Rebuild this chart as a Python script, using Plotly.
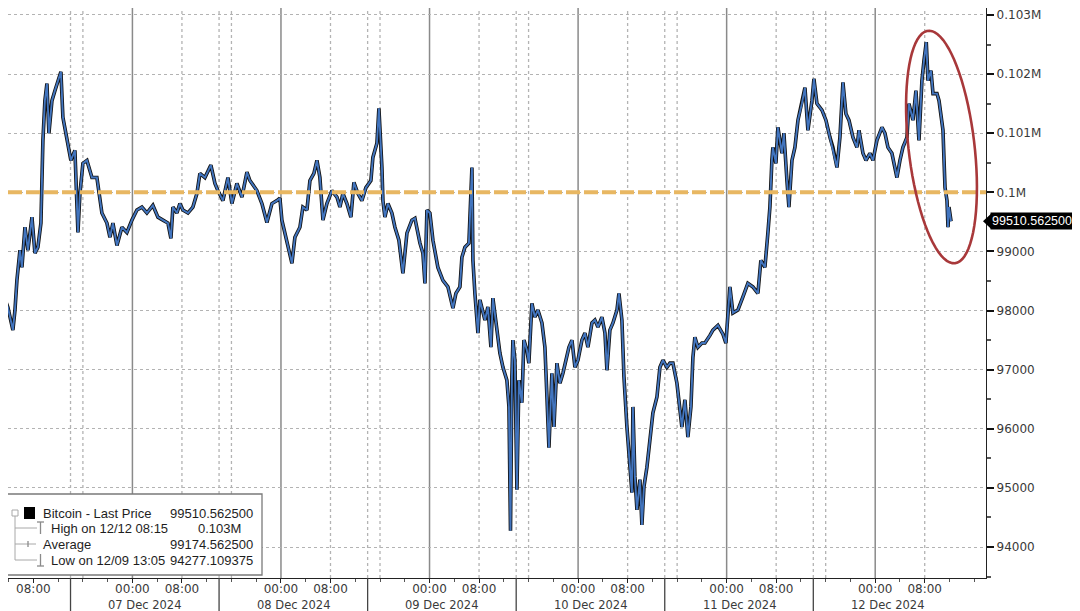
import numpy as np
import pandas as pd
import plotly.graph_objects as go

# Bitcoin last price, hours measured from 07 Dec 2024 00:00
day0 = pd.Timestamp("2024-12-07 00:00")

hours = [
    -21.08, -20.60, -20.11, -19.31, -18.98, -18.66, -18.17, -17.85, -17.36, -16.88,
    -16.23, -15.75, -15.27, -14.78, -14.46, -14.14, -13.81, -13.49, -13.00, -12.52,
    -12.04, -11.55, -11.23, -10.42, -9.94, -9.29, -8.97, -8.80, -8.48, -8.00,
    -7.35, -6.54, -5.74, -5.41, -4.93, -4.12, -3.63, -3.15, -2.50, -1.70,
    -0.89, -0.08, 0.73, 1.53, 2.34, 3.31, 4.12, 4.93, 5.74, 6.22,
    6.54, 7.19, 7.67, 8.16, 8.97, 9.77, 10.42, 10.90, 11.71, 12.68,
    13.33, 13.81, 14.62, 15.43, 16.07, 16.88, 17.69, 18.50, 18.98, 20.11,
    20.92, 21.73, 22.54, 23.34, 23.83, 24.15, 24.64, 25.12, 25.77, 26.25,
    27.06, 27.54, 28.19, 28.68, 29.32, 29.81, 30.29, 30.78, 31.42, 32.23,
    33.04, 33.52, 34.01, 34.65, 35.30, 35.78, 36.43, 37.07, 37.72, 38.53,
    38.85, 39.50, 39.82, 40.31, 40.47, 40.79, 41.28, 41.92, 42.41, 43.05,
    43.70, 44.35, 45.15, 45.64, 46.45, 46.93, 47.26, 47.58, 48.06, 48.55,
    49.35, 50.16, 50.97, 51.78, 52.26, 52.91, 53.23, 53.72, 54.36, 54.85,
    55.01, 55.33, 55.82, 56.14, 56.95, 57.43, 57.92, 58.24, 58.89, 59.37,
    59.86, 60.50, 60.83, 61.08, 61.31, 61.47, 61.79, 62.12, 62.44, 62.92,
    63.25, 63.73, 64.05, 64.54, 65.02, 65.51, 66.16, 66.64, 66.97, 67.13,
    67.29, 67.77, 68.10, 68.58, 69.07, 69.55, 70.04, 70.52, 71.01, 71.49,
    71.98, 72.62, 73.11, 73.59, 74.24, 74.72, 75.21, 75.85, 76.34, 76.66,
    77.14, 77.63, 78.28, 78.60, 79.08, 79.41, 79.89, 80.21, 80.70, 80.86,
    81.18, 81.51, 81.99, 82.31, 82.64, 83.12, 83.61, 84.09, 84.74, 85.22,
    85.71, 86.35, 86.84, 87.32, 87.97, 88.29, 88.77, 89.26, 89.74, 90.23,
    90.55, 90.87, 91.36, 92.01, 92.49, 93.30, 93.78, 94.59, 95.40, 95.88,
    96.53, 97.01, 97.82, 98.63, 99.43, 100.24, 101.05, 101.53, 102.18, 102.66,
    102.99, 103.31, 103.47, 103.96, 104.28, 104.93, 105.25, 105.74, 106.06, 106.55,
    107.03, 107.52, 108.16, 108.65, 109.13, 109.78, 110.10, 110.59, 111.40, 112.04,
    112.69, 113.17, 113.82, 114.30, 114.79, 115.27, 115.76, 116.41, 117.05, 117.38,
    118.02, 118.51, 119.15, 119.64, 120.28, 121.09, 121.57, 122.06, 122.70, 123.19,
    123.51, 124.00, 124.48, 125.13, 125.45, 126.10, 126.58, 127.07, 127.55, 127.88,
    128.25, 128.53, 129.01, 129.34, 129.98, 130.31, 130.63, 130.95, 131.12, 131.28,
    131.60, 131.76, 131.92, 132.25,
]
price = [
    98345, 98200, 98050, 97670, 98000, 98510, 99020, 98730, 99410, 99020,
    99580, 98970, 99070, 99480, 100880, 101550, 101840, 101000, 101550, 101720,
    101890, 102040, 101270, 100830, 100540, 100710, 99920, 99320, 99980, 100490,
    100540, 100250, 100250, 100030, 99650, 99480, 99240, 99480, 99100, 99410,
    99320, 99530, 99700, 99750, 99650, 99780, 99580, 99530, 99480, 99220,
    99750, 99650, 99810, 99700, 99650, 99750, 99980, 100320, 100250, 100460,
    100150, 100030, 99860, 100250, 99810, 100150, 99920, 100340, 100200, 100030,
    99810, 99490, 99810, 99860, 99900, 99530, 99310, 99140, 98800, 99240,
    99410, 99750, 99700, 100200, 100320, 100540, 100250, 99530, 99810, 100030,
    99920, 99750, 99980, 99810, 99580, 100170, 99980, 99860, 100080, 100200,
    100590, 100830, 101420, 100420, 99860, 99580, 99810, 99650, 99410, 99190,
    98630, 99310, 99530, 99560, 99140, 98970, 98460, 99700, 99650, 99190,
    98730, 98510, 98400, 98040, 98290, 98400, 98900, 99070, 99140, 100420,
    98850, 98290, 97620, 98180, 97840, 98060, 97380, 98210, 97620, 97280,
    97040, 96820, 96370, 94277.109375, 96880, 97500, 97160, 94970, 96820, 96440,
    97500, 97330, 97110, 98120, 97890, 98010, 97790, 97380, 96540, 95930,
    95680, 96940, 96030, 97110, 96770, 96940, 97160, 97380, 97500, 97040,
    97160, 97500, 97620, 97380, 97790, 97840, 97720, 97890, 97620, 96990,
    97670, 97790, 98010, 98290, 97840, 96880, 96030, 95590, 94920, 96370,
    95190, 94630, 95140, 94375, 95020, 95350, 95810, 96270, 96540, 97040,
    97160, 97040, 97110, 97110, 96770, 96440, 96030, 96490, 95860, 96370,
    97210, 97550, 97380, 97450, 97450, 97580, 97670, 97750, 97600, 97450,
    98400, 97960, 98010, 98230, 98460, 98400, 98290, 98850, 98730, 99310,
    99750, 100540, 100760, 100490, 101100, 100660, 101000, 100200, 99750, 100540,
    100760, 101220, 101500, 101770, 101050, 101550, 101920, 101500, 101390, 101220,
    100930, 100760, 100420, 100930, 101860, 101330, 101220, 100930, 100760, 101050,
    100660, 100540, 100660, 100540, 100880, 101100, 101000, 100760, 100660, 100420,
    100250, 100540, 100760, 100930, 101500, 101220, 101720, 100880, 101890, 102230,
    102540, 101890, 102060, 101670, 101670, 101550, 101330, 101050, 100540, 100080,
    99860, 99410, 99750, 99510.5625,
]

last_price = 99510.5625
level_line = 100000
legend_labels = ["Bitcoin - Last Price", "High on 12/12 08:15", "Average", "Low on 12/09 13:05"]
legend_values = ["99510.562500", "0.103M", "99174.562500", "94277.109375"]

y_tickvals = [94000, 95000, 96000, 97000, 98000, 99000, 100000, 101000, 102000, 103000]
y_ticktext = ["94000", "95000", "96000", "97000", "98000", "99000", "0.1M", "0.101M", "0.102M", "0.103M"]
day_labels = ["07 Dec 2024", "08 Dec 2024", "09 Dec 2024", "10 Dec 2024", "11 Dec 2024", "12 Dec 2024"]

times = [day0 + pd.Timedelta(hours=h) for h in hours]

# the page puts the figure 8px in from the window corner; the plot area
# spans screen x 8..986 and y 8..578
OFF = 8
X0, X1, Y0, Y1 = 8, 986, 8, 578
FIG_W, FIG_H = 1080 - OFF, 611 - OFF


def px(x):
    return (x - X0) / (X1 - X0)


def py(y):
    return (Y1 - y) / (Y1 - Y0)


fig = go.Figure()
fig.add_trace(go.Scatter(x=times, y=price, mode="lines",
                         line=dict(color="#111111", width=3.6), hoverinfo="skip"))
fig.add_trace(go.Scatter(x=times, y=price, mode="lines",
                         line=dict(color="#4275bf", width=1.9), name="Bitcoin"))

shapes = []
grid_dot = dict(color="#b3b3b3", width=1.3, dash="dot")
for d in range(6):
    mid = day0 + pd.Timedelta(days=d)
    shapes.append(dict(type="line", xref="x", yref="paper", x0=mid, x1=mid, y0=0, y1=1,
                       line=dict(color="#8a8a8a", width=1.5), layer="below"))
    t8 = mid + pd.Timedelta(hours=8)
    shapes.append(dict(type="line", xref="x", yref="paper", x0=t8, x1=t8, y0=0, y1=1,
                       line=grid_dot, layer="below"))
    for hh in (-10, -8):
        t = mid + pd.Timedelta(hours=hh)
        shapes.append(dict(type="line", xref="x", yref="paper", x0=t, x1=t, y0=0, y1=1,
                           line=grid_dot, layer="below"))
    # day separators in the axis band
    sep = mid + pd.Timedelta(hours=-10)
    shapes.append(dict(type="line", xref="x", yref="paper", x0=sep, x1=sep, y0=0, y1=py(611),
                       line=dict(color="#444444", width=1.3)))

# dashed level line at 100k
shapes.append(dict(type="line", xref="paper", yref="y", x0=0, x1=1, y0=level_line, y1=level_line,
                   line=dict(color="#e8b762", width=4, dash="14px,4px"), layer="above"))

# red ellipse around the last move
cx, cy, a, b, th = 941.5, 147, 117, 33, np.radians(6.6)
t = np.linspace(0, 2 * np.pi, 80)
ex = cx + a * np.cos(t) * np.sin(th) + b * np.sin(t) * np.cos(th)
ey = cy + a * np.cos(t) * np.cos(th) - b * np.sin(t) * np.sin(th)
path = "M " + " L ".join(f"{px(x):.5f},{py(y):.5f}" for x, y in zip(ex, ey)) + " Z"
shapes.append(dict(type="path", xref="paper", yref="paper", path=path,
                   line=dict(color="#a8383a", width=2.6)))

# last price tag pointer
shapes.append(dict(type="path", xref="paper", yref="y",
                   path=f"M {px(983)},{last_price} L {px(991)},{last_price + 125} "
                        f"L {px(991)},{last_price - 125} Z",
                   fillcolor="black", line=dict(width=0)))

# legend box and its tree
shapes.append(dict(type="rect", xref="paper", yref="paper", x0=px(6), x1=px(262), y0=py(575), y1=py(494),
                   fillcolor="white", line=dict(color="#7a7a7a", width=1.3), layer="above"))
tree = dict(color="#a8a8a8", width=1)
shapes.append(dict(type="line", xref="paper", yref="paper", x0=px(15), x1=px(15), y0=py(516), y1=py(560),
                   line=tree, layer="above"))
shapes.append(dict(type="rect", xref="paper", yref="paper", x0=px(12), x1=px(18), y0=py(516), y1=py(510),
                   fillcolor="white", line=tree, layer="above"))
for row_y, x_end in ((528, 37), (544, 36), (560, 37)):
    shapes.append(dict(type="line", xref="paper", yref="paper", x0=px(15), x1=px(x_end), y0=py(row_y), y1=py(row_y),
                       line=tree, layer="above"))
shapes.append(dict(type="rect", xref="paper", yref="paper", x0=px(24), x1=px(35), y0=py(519), y1=py(507),
                   fillcolor="black", line=dict(width=0), layer="above"))
icon = dict(color="#8a8a8a", width=1.3)
for seg in (((37, 522), (44, 522)), ((40.5, 522), (40.5, 534)),
            ((40.5, 554), (40.5, 566)), ((37, 566), (44, 566)),
            ((28, 541), (28, 547))):
    (x0, y0), (x1, y1) = seg
    shapes.append(dict(type="line", xref="paper", yref="paper", x0=px(x0), x1=px(x1), y0=py(y0), y1=py(y1),
                       line=icon, layer="above"))

annotations = []
for d, lab in enumerate(day_labels):
    annotations.append(dict(x=day0 + pd.Timedelta(days=d, hours=2), xref="x", y=py(604.5), yref="paper",
                            text=lab, showarrow=False, xanchor="center", yanchor="middle",
                            font=dict(size=11.5, color="#3a3a3a")))

row_y = [513, 528, 544, 560]
label_x = [41, 49, 41, 49]
value_x = [255, 243, 255, 255]
legend_font = dict(family="Liberation Sans", size=13, color="#1e1e1e")
for yy, lx, vx, lab, val in zip(row_y, label_x, value_x, legend_labels, legend_values):
    annotations.append(dict(x=px(lx), y=py(yy), xref="paper", yref="paper", text=lab, showarrow=False,
                            xanchor="left", yanchor="middle", font=legend_font))
    annotations.append(dict(x=px(vx), y=py(yy), xref="paper", yref="paper", text=val, showarrow=False,
                            xanchor="right", yanchor="middle", font=legend_font))

annotations.append(dict(x=px(990), y=last_price, xref="paper", yref="y", text=f"{last_price:.6f}",
                        showarrow=False, xanchor="left", yanchor="middle", bgcolor="black",
                        font=dict(family="Liberation Sans", size=12.5, color="white"), borderpad=1))

x_tickvals = [day0 - pd.Timedelta(hours=16)]
x_ticktext = ["08:00"]
for d in range(6):
    x_tickvals += [day0 + pd.Timedelta(days=d), day0 + pd.Timedelta(days=d, hours=8)]
    x_ticktext += ["00:00", "08:00"]

# 6.19 px per hour, 16.89 dollars per px
fig.update_layout(
    width=FIG_W,
    height=FIG_H,
    margin=dict(l=X0 - OFF, r=FIG_W - (X1 - OFF), t=Y0 - OFF, b=FIG_H - (Y1 - OFF)),
    paper_bgcolor="white",
    plot_bgcolor="white",
    showlegend=False,
    font=dict(family="DejaVu Sans", size=12, color="#3a3a3a"),
    shapes=shapes,
    annotations=annotations,
    xaxis=dict(
        type="date",
        range=[day0 + pd.Timedelta(hours=-20.1), day0 + pd.Timedelta(hours=137.9)],
        tickmode="array",
        tickvals=x_tickvals,
        ticktext=x_ticktext,
        showgrid=False,
        zeroline=False,
        showline=True,
        linecolor="#222222",
        linewidth=1.3,
        ticks="outside",
        ticklen=4,
        tickcolor="#222222",
        ticklabelstandoff=-5,
        minor=dict(ticks="outside", ticklen=3, tickcolor="#555555",
                   tickmode="linear", tick0=day0, dtick=4 * 3600 * 1000),
        tickfont=dict(size=12, color="#3a3a3a"),
    ),
    yaxis=dict(
        side="right",
        range=[93476, 103118],
        tickmode="array",
        tickvals=y_tickvals,
        ticktext=y_ticktext,
        showgrid=True,
        gridcolor="#b3b3b3",
        griddash="dot",
        gridwidth=1.3,
        zeroline=False,
        showline=True,
        mirror=True,
        linecolor="#222222",
        linewidth=1.3,
        ticks="outside",
        ticklen=7,
        tickwidth=2,
        tickcolor="#111111",
        minor=dict(ticks="outside", ticklen=4, tickcolor="#555555",
                   tickmode="linear", tick0=93500, dtick=1000),
        tickfont=dict(size=12, color="#3a3a3a"),
    ),
)

fig.write_html("out.html")
